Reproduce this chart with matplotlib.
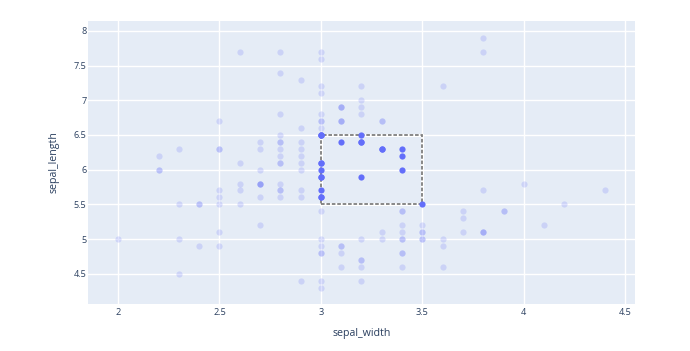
import numpy as np
import matplotlib
matplotlib.use('Agg')
import matplotlib.pyplot as plt
from matplotlib.patches import Rectangle

# Данные iris: sepal_width / sepal_length
sepal_width = [
    3.5, 3.0, 3.2, 3.1, 3.6, 3.9, 3.4, 3.4, 2.9, 3.1, 3.7, 3.4, 3.0, 3.0, 4.0, 4.4, 3.9, 3.5, 3.8, 3.8,
    3.4, 3.7, 3.6, 3.3, 3.4, 3.0, 3.4, 3.5, 3.4, 3.2, 3.1, 3.4, 4.1, 4.2, 3.1, 3.2, 3.5, 3.6, 3.0, 3.4,
    3.5, 2.3, 3.2, 3.5, 3.8, 3.0, 3.8, 3.2, 3.7, 3.3,
    3.2, 3.2, 3.1, 2.3, 2.8, 2.8, 3.3, 2.4, 2.9, 2.7, 2.0, 3.0, 2.2, 2.9, 2.9, 3.1, 3.0, 2.7, 2.2, 2.5,
    3.2, 2.8, 2.5, 2.8, 2.9, 3.0, 2.8, 3.0, 2.9, 2.6, 2.4, 2.4, 2.7, 2.7, 3.0, 3.4, 3.1, 2.3, 3.0, 2.5,
    2.6, 3.0, 2.6, 2.3, 2.7, 3.0, 2.9, 2.9, 2.5, 2.8,
    3.3, 2.7, 3.0, 2.9, 3.0, 3.0, 2.5, 2.9, 2.5, 3.6, 3.2, 2.7, 3.0, 2.5, 2.8, 3.2, 3.0, 3.8, 2.6, 2.2,
    3.2, 2.8, 2.8, 2.7, 3.3, 3.2, 2.8, 3.0, 2.8, 3.0, 2.8, 3.8, 2.8, 2.8, 2.6, 3.0, 3.4, 3.1, 3.0, 3.1,
    3.1, 3.1, 2.7, 3.2, 3.3, 3.0, 2.5, 3.0, 3.4, 3.0,
]
sepal_length = [
    5.1, 4.9, 4.7, 4.6, 5.0, 5.4, 4.6, 5.0, 4.4, 4.9, 5.4, 4.8, 4.8, 4.3, 5.8, 5.7, 5.4, 5.1, 5.7, 5.1,
    5.4, 5.1, 4.6, 5.1, 4.8, 5.0, 5.0, 5.2, 5.2, 4.7, 4.8, 5.4, 5.2, 5.5, 4.9, 5.0, 5.5, 4.9, 4.4, 5.1,
    5.0, 4.5, 4.4, 5.0, 5.1, 4.8, 5.1, 4.6, 5.3, 5.0,
    7.0, 6.4, 6.9, 5.5, 6.5, 5.7, 6.3, 4.9, 6.6, 5.2, 5.0, 5.9, 6.0, 6.1, 5.6, 6.7, 5.6, 5.8, 6.2, 5.6,
    5.9, 6.1, 6.3, 6.1, 6.4, 6.6, 6.8, 6.7, 6.0, 5.7, 5.5, 5.5, 5.8, 6.0, 5.4, 6.0, 6.7, 6.3, 5.6, 5.5,
    5.5, 6.1, 5.8, 5.0, 5.6, 5.7, 5.7, 6.2, 5.1, 5.7,
    6.3, 5.8, 7.1, 6.3, 6.5, 7.6, 4.9, 7.3, 6.7, 7.2, 6.5, 6.4, 6.8, 5.7, 5.8, 6.4, 6.5, 7.7, 7.7, 6.0,
    6.9, 5.6, 7.7, 6.3, 6.7, 7.2, 6.2, 6.1, 6.4, 7.2, 7.4, 7.9, 6.4, 6.3, 6.1, 7.7, 6.3, 6.4, 6.0, 6.9,
    6.7, 6.9, 5.8, 6.8, 6.7, 6.7, 6.3, 6.5, 6.2, 5.9,
]

# Границы выделения
sel_x = (3.0, 3.5)
sel_y = (5.5, 6.5)

x = np.array(sepal_width)
y = np.array(sepal_length)
eps = 1e-9
selected = (x >= sel_x[0] - eps) & (x <= sel_x[1] + eps) & (y >= sel_y[0] - eps) & (y <= sel_y[1] + eps)

plt.rcParams['font.family'] = ['Open Sans', 'DejaVu Sans']
text_color = '#2a3f5f'
marker_color = '#636efa'

fig = plt.figure(figsize=(6.9, 3.51), dpi=100)
ax = fig.add_axes([0.1275, 0.1339, 0.7928, 0.8063])
ax.set_facecolor('#E5ECF6')

ax.scatter(x[~selected], y[~selected], s=20, color=marker_color, alpha=0.2, linewidths=0, zorder=3)
ax.scatter(x[selected], y[selected], s=20, color=marker_color, alpha=1.0, linewidths=0, zorder=4)

# Рамка выделения (под точками)
for lw, col, ls in [(2.2, 'white', '-'), (1.3, '#7f7f7f', (0, (2, 1)))]:
    ax.add_patch(Rectangle((sel_x[0], sel_y[0]), sel_x[1] - sel_x[0], sel_y[1] - sel_y[0],
                           fill=False, edgecolor=col, linewidth=lw, linestyle=ls, zorder=2.5))

ax.set_xlim(1.852, 4.548)
ax.set_ylim(4.063, 8.144)
ax.set_xticks([2, 2.5, 3, 3.5, 4, 4.5])
ax.set_xticklabels(['2', '2.5', '3', '3.5', '4', '4.5'])
ax.set_yticks([4.5, 5, 5.5, 6, 6.5, 7, 7.5, 8])
ax.set_yticklabels(['4.5', '5', '5.5', '6', '6.5', '7', '7.5', '8'])
ax.grid(True, color='white', linewidth=1)
ax.set_axisbelow(True)
for s in ax.spines.values():
    s.set_visible(False)
ax.tick_params(length=0, labelsize=6.6, labelcolor=text_color)
ax.tick_params(axis='x', pad=3)
ax.tick_params(axis='y', pad=1)
ax.set_xlabel('sepal_width', fontsize=7.7, color=text_color, labelpad=8)
ax.set_ylabel('sepal_length', fontsize=7.7, color=text_color, labelpad=10)

fig.savefig('out.png', dpi=100)
